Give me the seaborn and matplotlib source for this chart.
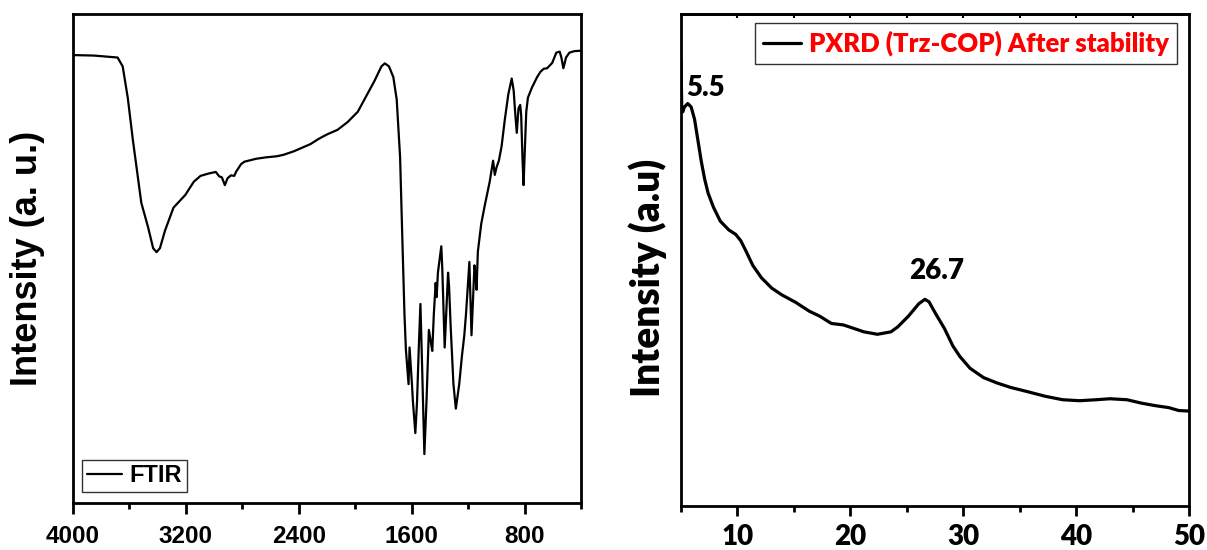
import numpy as np
import pandas as pd
import matplotlib
matplotlib.use("Agg")
import matplotlib.pyplot as plt
import seaborn as sns

# ---------------- data ----------------
ftir_wavenumber = [4000, 3851, 3684, 3648, 3612, 3576, 3516, 3468, 3432, 3408, 3384, 3348,
                   3288, 3204, 3144, 3096, 3036, 2988, 2964, 2945, 2924, 2905, 2881, 2857,
                   2845, 2809, 2785, 2701, 2629, 2557, 2509, 2437, 2389, 2317, 2257, 2198,
                   2126, 2054, 1982, 1922, 1862, 1814, 1790, 1761, 1730, 1706, 1682, 1665,
                   1651, 1641, 1622, 1615, 1598, 1591, 1574, 1562, 1550, 1538, 1526, 1510,
                   1495, 1478, 1464, 1454, 1443, 1430, 1423, 1414, 1390, 1383, 1366, 1342,
                   1335, 1323, 1304, 1287, 1263, 1244, 1227, 1215, 1191, 1176, 1155, 1148,
                   1140, 1131, 1107, 1083, 1047, 1023, 1011, 999, 982, 963, 939, 915, 891,
                   877, 867, 855, 843, 831, 824, 815, 807, 800, 788, 776, 747, 711, 687,
                   664, 640, 604, 575, 551, 539, 525, 506, 482, 448, 400]
ftir_intensity = [91.6, 91.5, 91.1, 89.3, 82.9, 74.3, 61.4, 56.4, 52.1, 51.3, 52.1, 55.7,
                  60.4, 63.0, 65.7, 66.9, 67.4, 67.7, 66.8, 66.6, 65.0, 66.4, 67.0, 66.9,
                  67.7, 69.3, 69.8, 70.4, 70.7, 70.9, 71.2, 71.9, 72.5, 73.4, 74.5, 75.4,
                  76.3, 77.9, 80.0, 83.2, 86.4, 89.3, 89.9, 89.3, 87.1, 82.5, 70.7, 52.9,
                  38.6, 31.4, 24.3, 31.8, 24.3, 20.7, 14.3, 20.7, 31.4, 40.7, 27.9, 10.0,
                  20.7, 35.4, 32.9, 31.1, 38.6, 45.0, 42.1, 47.1, 52.5, 47.9, 31.8, 47.1,
                  44.3, 35.7, 24.3, 19.3, 24.3, 30.0, 34.3, 38.6, 49.3, 34.3, 48.6, 47.1,
                  43.6, 51.4, 57.1, 60.7, 65.7, 70.0, 67.1, 68.6, 70.0, 72.9, 78.6, 83.6, 86.8,
                  84.3, 80.0, 75.7, 80.7, 81.4, 79.3, 70.7, 65.0, 70.7, 80.0, 82.9, 85.0, 87.1, 88.2,
                  88.8, 88.9, 90.0, 92.1, 92.3, 91.1, 88.9, 91.1, 92.1, 92.4, 92.5]

pxrd_two_theta = [5.0, 5.06, 5.15, 5.3, 5.6, 5.9, 6.2, 6.5, 6.8, 7.1, 7.4, 7.88, 8.48, 9.24,
                  9.85, 10.3, 10.76, 11.36, 12.12, 13.03, 13.94, 15.15, 16.36, 17.27, 18.33,
                  19.39, 20.3, 21.2, 22.4, 23.6, 24.2, 25.15, 26.06, 26.6, 26.97, 27.58,
                  28.33, 29.09, 29.7, 30.6, 31.8, 33.0, 34.2, 35.76, 37.27, 38.8, 40.3,
                  41.8, 43.0, 44.5, 45.8, 47.0, 48.2, 49.1, 50.0]
pxrd_intensity = [90.7, 81.4, 80.1, 81.1, 81.8, 81.1, 78.6, 74.3, 70.0, 66.4, 63.6, 60.7,
                  57.9, 56.1, 55.2, 53.9, 51.8, 48.9, 46.4, 44.3, 42.9, 41.4, 39.6, 38.6,
                  37.1, 36.8, 36.1, 35.4, 34.9, 35.4, 36.4, 38.6, 41.1, 42.0, 41.5, 39.0,
                  36.1, 32.5, 30.4, 28.0, 26.1, 25.0, 24.1, 23.2, 22.3, 21.6, 21.4, 21.6,
                  21.8, 21.6, 20.9, 20.4, 20.0, 19.4, 19.3]

ftir_ticks = [4000, 3200, 2400, 1600, 800]
ftir_minor = [3600, 2800, 2000, 1200, 400]
pxrd_ticks = [10, 20, 30, 40, 50]
pxrd_minor = [5, 15, 25, 35, 45]
peak_labels = ["5.5", "26.7"]
peak_pos = [(7.2, 85.0), (27.6, 47.8)]

ftir_df = pd.DataFrame({"wavenumber": ftir_wavenumber, "intensity": ftir_intensity})
pxrd_df = pd.DataFrame({"two_theta": pxrd_two_theta, "intensity": pxrd_intensity})

# ---------------- style ----------------
sns.set_theme(style="ticks")
plt.rcParams["font.family"] = ["Liberation Sans", "DejaVu Sans"]
plt.rcParams["axes.linewidth"] = 2.0
plt.rcParams["text.color"] = "black"
plt.rcParams["axes.labelcolor"] = "black"
plt.rcParams["xtick.color"] = "black"
plt.rcParams["ytick.color"] = "black"
plt.rcParams["axes.edgecolor"] = "black"

fig = plt.figure(figsize=(12.07, 5.5), dpi=100)
ax1 = fig.add_axes([73 / 1207, 47 / 550, 508 / 1207, 489 / 550])
ax2 = fig.add_axes([681 / 1207, 44 / 550, 508 / 1207, 492 / 550])

# ---------------- FTIR panel ----------------
sns.lineplot(data=ftir_df, x="wavenumber", y="intensity", ax=ax1, color="black",
             linewidth=1.6, sort=False, label="FTIR")
ax1.set_xlim(4000, 400)
ax1.set_ylim(0, 100)
ax1.set_xticks(ftir_ticks)
ax1.set_xticks(ftir_minor, minor=True)
ax1.set_yticks([])
ax1.tick_params(axis="x", which="major", length=8, width=2, direction="out",
                labelsize=17.5, pad=8, colors="black")
ax1.tick_params(axis="x", which="minor", length=4, width=2, direction="out")
for lab in ax1.get_xticklabels():
    lab.set_fontweight("bold")
ax1.set_xlabel("")
ax1.set_ylabel("Intensity (a. u.)", fontsize=26, fontweight="bold", color="black")
ax1.yaxis.set_label_coords(-0.055, 0.5)
for s in ax1.spines.values():
    s.set_visible(True)
    s.set_linewidth(2)
    s.set_color("black")
leg1 = ax1.legend(loc="lower left", bbox_to_anchor=(0.018, 0.0225), borderaxespad=0,
                  fancybox=False, framealpha=1, edgecolor="#333333",
                  prop={"weight": "bold", "size": 17},
                  handlelength=1.5, handletextpad=0.3, borderpad=0.2)
leg1.get_frame().set_linewidth(1.0)

# ---------------- PXRD panel ----------------
cal = ["Lato", "DejaVu Sans"]
sns.lineplot(data=pxrd_df, x="two_theta", y="intensity", ax=ax2, color="black",
             linewidth=2.3, sort=False, label="PXRD (Trz-COP) After stability")
ax2.set_xlim(5, 50)
ax2.set_ylim(0, 100)
ax2.set_xticks(pxrd_ticks)
ax2.set_xticks(pxrd_minor, minor=True)
ax2.set_yticks([])
ax2.tick_params(axis="x", which="major", length=7, width=2, direction="out",
                labelsize=20, pad=6, colors="black")
ax2.tick_params(axis="x", which="minor", length=4, width=2, direction="out")
for lab in ax2.get_xticklabels():
    lab.set_fontweight("heavy")
    lab.set_family(cal)
ax2.set_xlabel("")
ax2.set_ylabel("Intensity (a.u)", fontsize=28, fontweight="heavy", family=cal, color="black")
ax2.yaxis.set_label_coords(-0.028, 0.463)
for s in ax2.spines.values():
    s.set_visible(True)
    s.set_linewidth(2)
    s.set_color("black")
top = ax2.secondary_xaxis("top")
top.set_xticks([10, 15, 20, 25, 30, 35, 40, 45])
top.set_xticklabels([])
top.tick_params(direction="in", length=3, width=1.5, colors="black")
top.spines["top"].set_linewidth(2)

for lbl, (x, y) in zip(peak_labels, peak_pos):
    ax2.text(x, y, lbl, ha="center", va="center", fontsize=20, fontweight="heavy",
             family=cal, color="black")

leg2 = ax2.legend(loc="upper right", bbox_to_anchor=(0.976, 0.982), borderaxespad=0,
                  fancybox=False, framealpha=1, edgecolor="#333333",
                  prop={"weight": "heavy", "size": 18.5, "family": cal},
                  handlelength=1.5, handletextpad=0.3, borderpad=0.3)
leg2.get_frame().set_linewidth(1.0)
for t in leg2.get_texts():
    t.set_color("red")

fig.savefig("out.png", dpi=100)
